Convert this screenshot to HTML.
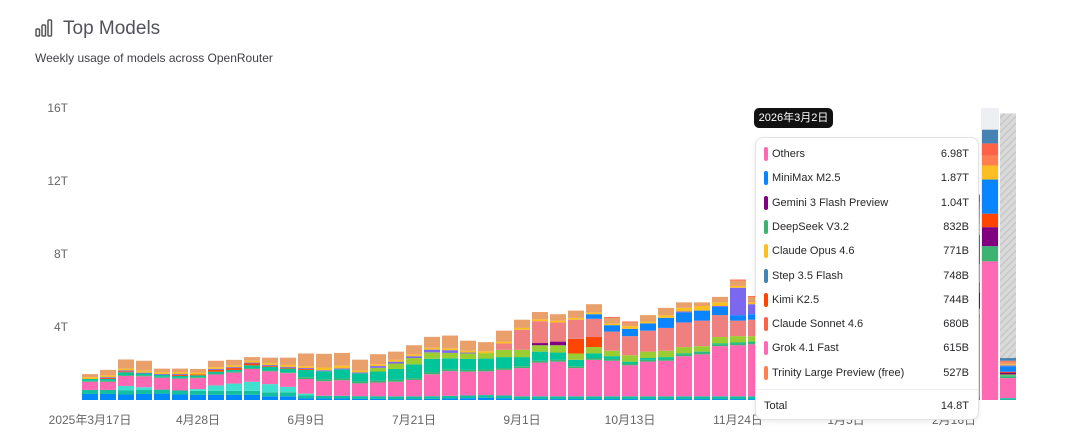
<!DOCTYPE html>
<html><head><meta charset="utf-8">
<style>
body{margin:0;width:1080px;height:447px;background:#fff;font-family:"Liberation Sans","Noto Sans CJK SC",sans-serif;overflow:hidden;position:relative}
.h{position:absolute}
#tip{position:absolute;left:755px;top:137px;width:224px;height:283px;background:#fff;border:1px solid #e3e3e6;border-radius:8px;box-shadow:0 2px 6px rgba(0,0,0,.08);box-sizing:border-box}
.row{position:absolute;left:8px;right:9px;height:16px;font-size:11px;color:#27272a}
.sw{position:absolute;left:0;top:1px;width:4px;height:14px;border-radius:2px}
.nm{position:absolute;left:8px;top:2px}
.vl{position:absolute;right:0;top:2px}
</style></head><body>
<svg class="h" style="left:35px;top:19px" width="18" height="18" viewBox="0 0 18 18"><g fill="none" stroke="#555" stroke-width="1.5"><rect x="1" y="10" width="3.5" height="7" rx="1"/><rect x="7" y="6" width="3.5" height="11" rx="1"/><rect x="13" y="1" width="3.5" height="16" rx="1"/></g></svg>
<div class="h" style="left:63px;top:18px;font-size:19px;color:#52525b">Top Models</div>
<div class="h" style="left:35px;top:51px;font-size:12px;color:#3f3f46">Weekly usage of models across OpenRouter</div>
<svg id="chart" class="h" style="left:0;top:0" width="1080" height="447">
<defs><pattern id="hatch" width="5" height="5" patternUnits="userSpaceOnUse" patternTransform="rotate(45)"><rect width="5" height="5" fill="#d9d9d9"/><line x1="0" y1="0" x2="0" y2="5" stroke="#c4c4c4" stroke-width="2.5"/></pattern></defs>
</svg>
<div class="h" style="left:754px;top:108px;width:79px;height:20px;background:#111;border-radius:5px;color:#fff;font-size:11px;line-height:20px;text-align:center">2026年3月2日</div>
<div id="tip"></div>
<script>
const months=["2025年3月17日","4月28日","6月9日","7月21日","9月1日","10月13日","11月24日","1月5日","2月16日"];
const yTicks=[4,8,12,16];
const seriesNames=["blueB","tealB","turq","pink","deepseek","gteal","lime","gemini","kimi","salmon","minimax","purple","opus","misc","trinity","sonnet","step"];
const seriesColors=["#0088ff","#14bfa0","#40e0d0","#ff69b4","#3cb371","#00c49a","#9acd32","#800080","#ff4500","#f08080","#0a84ff","#7b68ee","#fbbf24","#e9a06a","#ff7f50","#ff6347","#4682b4"];
const blueB=[.33,.33,.3,.33,.35,.3,.28,.28,.28,.28,.2,.2,.1,.08,.08,.06,.06,.05,.05,.06,.08,.1,.12,.1,.05,.05,.05,.05,.05,.05,.05,.05,.05,.05,.05,.05,.05,.05,.05,.05,.05,.05,.05,.05,.05,.05,.05,.05,.05,.05,0,0];
const tealB=[.22,.22,.22,.22,.22,.22,.22,.22,.22,.22,.22,.22,.15,.15,.15,.15,.15,.15,.15,.15,.15,.15,.15,.15,.15,.15,.15,.15,.15,.15,.15,.15,.15,.15,.15,.15,.15,.15,.15,.15,.15,.15,.15,.15,.15,.15,.15,.15,.15,.15,0,.1];
const turq=[0,0,.25,.15,0,0,.1,.3,.4,.5,.45,.3,.1,0,0,0,0,0,0,0,0,0,0,0,0,0,0,0,0,0,0,0,0,0,0,0,0,0,0,0,0,0,0,0,0,0,0,0,0,0,0,0];
const pink=[.45,.45,.55,.6,.65,.65,.6,.6,.6,.7,.7,.75,.8,.8,.85,.7,.75,.8,.9,1.2,1.35,1.3,1.3,1.4,1.55,1.85,1.9,1.55,2.0,1.95,1.7,1.9,1.95,2.2,2.3,2.75,2.8,2.85,3.0,3.1,3.2,3.3,3.4,3.5,3.6,3.7,3.8,3.9,4.0,4.3,7.6,1.1];
const deepseek=[.05,.05,.05,.05,.05,.05,.05,.05,.05,.05,.05,.05,.1,.1,.1,.1,.1,.1,.1,.1,.1,.1,.1,.1,.1,.1,.1,.1,.1,.1,.1,.1,.1,.1,.1,.1,.1,.1,.15,.15,.15,.15,.15,.15,.15,.15,.15,.15,.15,.15,.83,.1];
const gteal=[.1,.1,.15,.1,.1,.1,.1,.1,.1,.15,.2,.2,.4,.45,.5,.45,.5,.6,.75,.75,.6,.6,.6,.6,.5,.5,.4,.35,.25,.15,.1,.1,.1,.05,.05,.05,.05,.05,.05,.05,.05,.05,.05,.05,.05,.05,.05,.05,.05,.05,0,.05];
const lime=[0,0,0,0,0,0,0,0,0,0,0,0,0,0,0,0,.2,.3,.35,.35,.3,.3,.3,.4,.4,.35,.4,.35,.35,.3,.35,.35,.35,.35,.3,.35,.35,.3,.3,.3,.3,.3,.3,.3,.3,.3,.3,.3,.3,.3,0,.05];
const gemini=[0,0,0,0,0,0,0,0,0,0,0,0,0,0,0,0,0,0,0,0,0,0,0,0,0,.12,.2,0,0,0,0,0,0,0,0,0,0,0,.3,.35,.4,.45,.5,.55,.6,.65,.7,.75,.8,.9,1.04,.1];
const kimi=[0,.05,.05,0,0,.05,.05,.1,.1,.1,.05,.05,.05,0,0,0,0,0,0,0,0,0,0,0,0,0,0,.8,.55,0,0,0,0,0,0,0,0,0,.2,.2,.25,.25,.3,.3,.35,.35,.4,.4,.45,.55,.74,.05];
const salmon=[0,0,0,0,0,0,0,0,0,0,0,0,0,0,0,0,0,0,0,0,0,0,0,.35,1.1,1.2,1.05,1.05,1.0,1.05,1.05,1.15,1.25,1.35,1.4,1.2,.85,.9,1.0,1.0,1.0,1.0,1.0,1.0,1.0,1.0,1.0,1.0,1.0,1.0,0,0];
const minimax=[0,0,0,0,0,0,0,0,0,0,0,0,0,0,0,0,0,0,0,0,0,0,0,0,0,0,0,0,.25,.35,.4,.4,.55,.55,.55,.45,.3,.3,.4,.5,.6,.7,.8,.9,1.0,1.1,1.2,1.3,1.4,1.6,1.87,.3];
const purple=[0,.05,.05,.05,.05,.05,0,.05,.05,.05,.05,.05,.05,.05,.05,.05,.1,.1,.1,.15,.15,.05,0,0,0,0,0,0,0,0,0,0,0,.05,0,.05,1.5,.55,0,0,0,0,0,0,0,0,0,0,0,0,0,.05];
const opus=[.1,.1,.1,.1,.1,.1,.1,.1,.1,.1,.1,.1,.1,.15,.15,.1,.1,.1,.1,.1,.1,.1,.1,.1,.1,.1,.1,.1,.1,.1,.15,.1,.15,.2,.25,.2,.1,.1,.2,.2,.25,.25,.3,.3,.35,.35,.4,.4,.45,.55,.77,.05];
const misc=[.17,.3,.5,.55,.2,.2,.2,.35,.3,.2,.3,.4,.7,.75,.7,.6,.55,.45,.5,.6,.7,.55,.5,.6,.45,.4,.35,.4,.45,.3,.2,.35,.4,.3,.2,.3,.3,.3,.4,.4,.4,.4,.4,.4,.4,.4,.4,.4,.4,.4,0,.1];
const trinity=[0,0,0,0,0,0,0,0,0,0,0,0,0,0,0,0,0,0,0,0,0,0,0,0,0,0,0,0,0,0,0,0,0,0,0,0,0,0,0,0,0,0,0,0,0,0,.2,.3,.4,.45,.53,.05];
const sonnet=[0,0,0,0,0,0,0,0,0,0,0,0,0,0,0,0,0,0,0,0,0,0,0,0,0,0,0,0,0,.05,.05,0,0,0,0,0,.05,.05,0,0,0,0,0,0,0,0,0,0,.2,.4,.68,.05];
const step=[0,0,0,0,0,0,0,0,0,0,0,0,0,0,0,0,0,0,0,0,0,0,0,0,0,0,0,0,0,0,0,0,0,0,0,0,0,0,0,0,0,0,0,0,0,0,0,0,.2,.4,.75,.15];
const projected=[0,0,0,0,0,0,0,0,0,0,0,0,0,0,0,0,0,0,0,0,0,0,0,0,0,0,0,0,0,0,0,0,0,0,0,0,0,0,0,0,0,0,0,0,0,0,0,0,0,0,0,15.7];
const series=[blueB,tealB,turq,pink,deepseek,gteal,lime,gemini,kimi,salmon,minimax,purple,opus,misc,trinity,sonnet,step];
const tipNames=["Others","MiniMax M2.5","Gemini 3 Flash Preview","DeepSeek V3.2","Claude Opus 4.6","Step 3.5 Flash","Kimi K2.5","Claude Sonnet 4.6","Grok 4.1 Fast","Trinity Large Preview (free)"];
const tipValues=["6.98T","1.87T","1.04T","832B","771B","748B","744B","680B","615B","527B"];
const tipColors=["#ff69b4","#0a84ff","#800080","#3cb371","#fbbf24","#4682b4","#ff4500","#ff6347","#ff69b4","#ff7f50"];
const hoverIndex=50;

const NS="http://www.w3.org/2000/svg";
const svg=document.getElementById('chart');
const y0=400, pxPerT=73/4, x0=82, pitch=18, bw=16;
const y=v=>y0-v*pxPerT;
const x=i=>x0+i*pitch;
function mk(tag,attrs){const e=document.createElementNS(NS,tag);for(const k in attrs)e.setAttribute(k,attrs[k]);svg.appendChild(e);return e;}
yTicks.forEach(t=>{const e=mk('text',{x:68,y:y(t)+4,'text-anchor':'end','font-size':12,fill:'#666'});e.textContent=t+'T';

});
const hl=mk('rect',{x:x(hoverIndex)-1,y:108,width:bw+2,height:y0-108,fill:'#eeeff2'});


const n=pink.length;
for(let i=0;i<n;i++){
  let acc=0;
  series.forEach((s,k)=>{const v=s[i];if(!v)return;
    const r=mk('rect',{x:x(i),y:y(acc+v),width:bw,height:v*pxPerT,fill:seriesColors[k]});
    
    
    acc+=v;});
  if(projected[i]>acc){const r=mk('rect',{x:x(i),y:y(projected[i]),width:bw,height:(projected[i]-acc)*pxPerT,fill:'url(#hatch)'});
    
    }
}
months.forEach((m,j)=>{const e=mk('text',{x:x(j*6)+bw/2,y:424,'text-anchor':'middle','font-size':12,fill:'#666'});e.textContent=m;

});
const tip=document.getElementById('tip');
tipNames.forEach((nm,i)=>{const r=document.createElement('div');r.className='row';r.style.top=(8+i*24.3)+'px';


r.innerHTML='<span class="sw" style="background:'+tipColors[i]+'"></span><span class="nm">'+nm+'</span><span class="vl">'+tipValues[i]+'</span>';tip.appendChild(r);});
const sep=document.createElement('div');sep.style.cssText='position:absolute;left:0;right:0;top:251px;border-top:1px solid #eee';tip.appendChild(sep);


const tot=document.createElement('div');tot.className='row';tot.style.top='260px';tot.innerHTML='<span class="nm" style="left:0">Total</span><span class="vl">14.8T</span>';tip.appendChild(tot);


</script>
</body></html>
